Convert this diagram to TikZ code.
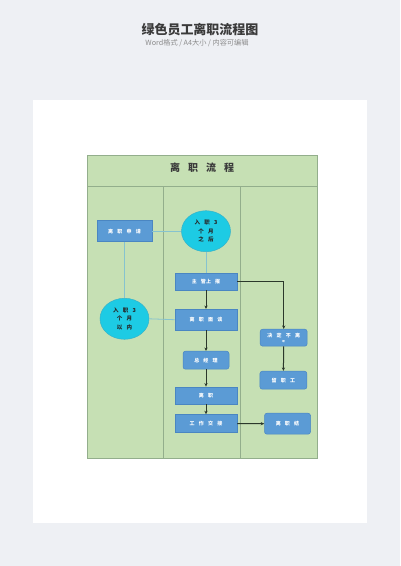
\documentclass[tikz,border=0pt]{standalone}
\usepackage{fontspec}
\newfontfamily\cjk{Noto Sans CJK SC}
\usetikzlibrary{arrows.meta,shapes.geometric}
\definecolor{pagebg}{HTML}{EEF0F4}
\definecolor{lanegreen}{HTML}{C6E0B4}
\definecolor{laneline}{HTML}{93AE8C}
\definecolor{boxblue}{HTML}{5B9BD5}
\definecolor{boxedge}{HTML}{4A86C2}
\definecolor{cyanfill}{HTML}{1DCBE4}
\definecolor{cyanedge}{HTML}{35B3C9}
\definecolor{lightlink}{HTML}{86C3CF}
\definecolor{darklink}{HTML}{2B382B}
\definecolor{titlegray}{HTML}{3A3A3A}
\definecolor{subgray}{HTML}{8C8C8C}
\newcommand\sg{\hspace{4.2pt}}
\tikzset{
  bluebox/.style={rectangle, fill=boxblue, draw=boxedge, line width=0.5pt, inner sep=0pt,
    text=white, font=\cjk\bfseries\fontsize{5}{6}\selectfont, minimum width=62pt, minimum height=18pt},
  roundbox/.style={bluebox, rounded corners=2.5pt, minimum width=47pt},
  cyanell/.style={ellipse, fill=cyanfill, draw=cyanedge, line width=0.5pt, inner sep=0pt,
    minimum width=49pt, minimum height=41pt, align=center, text=black!85,
    font=\cjk\bfseries\fontsize{5.5}{8.3}\selectfont},
  softlink/.style={draw=lightlink, line width=0.8pt},
  flowarrow/.style={draw=darklink, line width=1pt, -{Stealth[length=3.5pt,width=3.2pt]}},
  lanebox/.style={fill=lanegreen, draw=laneline, line width=0.6pt},
  laneedge/.style={draw=laneline, line width=0.6pt}
}
\begin{document}
\begin{tikzpicture}[x=1pt,y=-1pt]
\useasboundingbox (0,0) rectangle (400,566);
\fill[pagebg] (0,0) rectangle (400,566);
\node[font=\cjk\bfseries\fontsize{13}{15}\selectfont, text=titlegray] (maintitle) at (200,30) {绿色员工离职流程图};
\node[font=\cjk\fontsize{7.2}{8}\selectfont, text=subgray] (subtitle) at (197,43) {Word格式 / A4大小 / 内容可编辑};
\fill[white] (33,100) rectangle (367,523);
% lanes
\path[lanebox] (87.3,155.3) rectangle (317.3,458.3);
\draw[laneedge] (87.3,186.7) -- (317.3,186.7);
\draw[laneedge] (163.7,186.7) -- (163.7,458.3);
\draw[laneedge] (240.3,186.7) -- (240.3,458.3);
\node[font=\cjk\bfseries\fontsize{10}{12}\selectfont, text=titlegray] (charttitle) at (202,168) {离\hspace{8pt}职\hspace{8pt}流\hspace{8pt}程};
% nodes
\node[bluebox, minimum width=55pt, minimum height=21pt] (apply) at (124.5,231.2) {离\sg 职\sg 申\sg 请};
\node[cyanell] (after) at (206,231.2) {入\sg 职\sg 3\\个\sg 月\\之\sg 后};
\node[bluebox, minimum height=17pt] (report) at (206,281.3) {主\sg 管上\sg 报};
\node[cyanell] (within) at (124.5,318.8) {入\sg 职\sg 3\\个\sg 月\\以\sg 内};
\node[bluebox, minimum height=21pt] (talk) at (206,319.7) {离\sg 职\sg 面\sg 谈};
\node[roundbox, minimum width=46pt, minimum height=18pt] (manager) at (206,360.2) {总\sg 经\sg 理};
\node[bluebox, minimum height=17pt] (leave) at (206,395.3) {离\sg 职};
\node[bluebox, minimum height=18pt] (handover) at (206,423.5) {工\sg 作\sg 交\sg 接};
\node[roundbox, minimum height=17pt, align=center, font=\cjk\bfseries\fontsize{5}{5.5}\selectfont] (decide) at (283.7,337.7) {决\sg 定\sg 不\sg 离\\[-1pt]{\fontsize{2.5}{3}\selectfont 职}};
\node[roundbox, minimum height=18pt] (retain) at (283.4,380.2) {留\sg 职\sg 工};
\node[roundbox, minimum width=46pt, minimum height=21pt] (done) at (287.5,423.7) {离\sg 职\sg 结};
% soft links
\draw[softlink] (apply.east) -- (after.west);
\draw[softlink] (after.south) -- (report.north);
\draw[softlink] (apply.south) -- (within.north);
\draw[softlink] (within.east) -- (talk.west);
% flow arrows
\draw[flowarrow] (report.south) -- (talk.north);
\draw[flowarrow] (talk.south) -- (manager.north);
\draw[flowarrow] (manager.south) -- (leave.north);
\draw[flowarrow] (leave.south) -- (handover.north);
\draw[flowarrow] (report.east) -| (decide.north);
\draw[flowarrow] (decide.south) -- (retain.north);
\draw[flowarrow] (handover.east) -- (done.west);
\end{tikzpicture}
\end{document}
